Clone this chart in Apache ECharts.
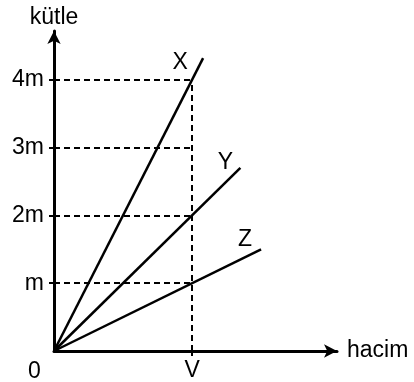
<!DOCTYPE html>
<html>
<head>
<meta charset="utf-8">
<script src="https://cdn.jsdelivr.net/npm/echarts@6/dist/echarts.min.js"></script>
<style>
  html, body { margin: 0; padding: 0; background: #fff; }
  #chart { width: 414px; height: 382px; }
</style>
</head>
<body>
<div id="chart"></div>
<script>
// straight lines through the origin, end points
const lineX = [[0, 0], [1.08, 4.32]];
const lineY = [[0, 0], [1.35, 2.7]];
const lineZ = [[0, 0], [1.5, 1.5]];
const lineNames = ['X', 'Y', 'Z'];

// tick labels
const massTicks = [1, 2, 3, 4];
const massLabels = ['m', '2m', '3m', '4m'];
const volTicks = [1];
const volLabels = ['V'];

const FONT = "'Liberation Sans', Arial, sans-serif";
const FS = 23;
const chart = echarts.init(document.getElementById('chart'));

// dashed guides from the axes to V
const guides = massTicks.map(k => [{ coord: [0, k] }, { coord: [1, k] }]);
guides.push([{ coord: [1, 0] }, { coord: [1, 4] }]);

function seriesFor(name, pts, off) {
    const last = pts[pts.length - 1];
    return {
        name: name,
        type: 'line',
        symbol: 'none',
        animation: false,
        lineStyle: { color: '#000', width: 2.5 },
        data: [
            pts[0],
            {
                value: last,
                symbol: 'circle', symbolSize: 0,
                label: {
                    show: true, formatter: name, position: 'inside',
                    offset: off, color: '#000', fontSize: FS, fontFamily: FONT
                }
            }
        ]
    };
}

const series = [
    seriesFor(lineNames[0], lineX, [-23, 5]),
    seriesFor(lineNames[1], lineY, [-15, -5]),
    seriesFor(lineNames[2], lineZ, [-16, -10])
];
series[0].markLine = {
    silent: true, symbol: 'none', animation: false,
    label: { show: false },
    lineStyle: { color: '#000', width: 2, type: [6, 4] },
    data: guides
};

chart.setOption({
    backgroundColor: '#fff',
    animation: false,
    grid: { left: 54, right: 77, top: 31, bottom: 30 },
    xAxis: {
        type: 'value', min: 0, max: 2.05,
        name: 'hacim', nameLocation: 'end', nameGap: 10,
        nameTextStyle: { color: '#000', fontSize: FS, fontFamily: FONT },
        axisLine: {
            show: true, symbol: ['none', 'arrow'], symbolSize: [10, 13],
            lineStyle: { color: '#000', width: 3 }
        },
        axisTick: { show: true, length: 5, customValues: volTicks, lineStyle: { color: '#000', width: 2 } },
        axisLabel: {
            customValues: volTicks, margin: 8, color: '#000', fontSize: FS, fontFamily: FONT,
            formatter: v => volLabels[volTicks.indexOf(v)] || ''
        },
        splitLine: { show: false }
    },
    yAxis: {
        type: 'value', min: 0, max: 4.72,
        name: 'kütle', nameLocation: 'end', nameGap: 2,
        nameTextStyle: { color: '#000', fontSize: FS, fontFamily: FONT, align: 'center' },
        axisLine: {
            show: true, symbol: ['none', 'arrow'], symbolSize: [10, 13],
            lineStyle: { color: '#000', width: 3 }
        },
        axisTick: { show: true, length: 5, customValues: massTicks, lineStyle: { color: '#000', width: 2 } },
        axisLabel: {
            customValues: massTicks, margin: 10, color: '#000', fontSize: FS, fontFamily: FONT,
            formatter: v => massLabels[massTicks.indexOf(v)] || ''
        },
        splitLine: { show: false }
    },
    graphic: [{
        type: 'text', left: 28, top: 360,
        style: { text: '0', fill: '#000', fontSize: FS, fontFamily: FONT }
    }],
    series: series
});
</script>
</body>
</html>
